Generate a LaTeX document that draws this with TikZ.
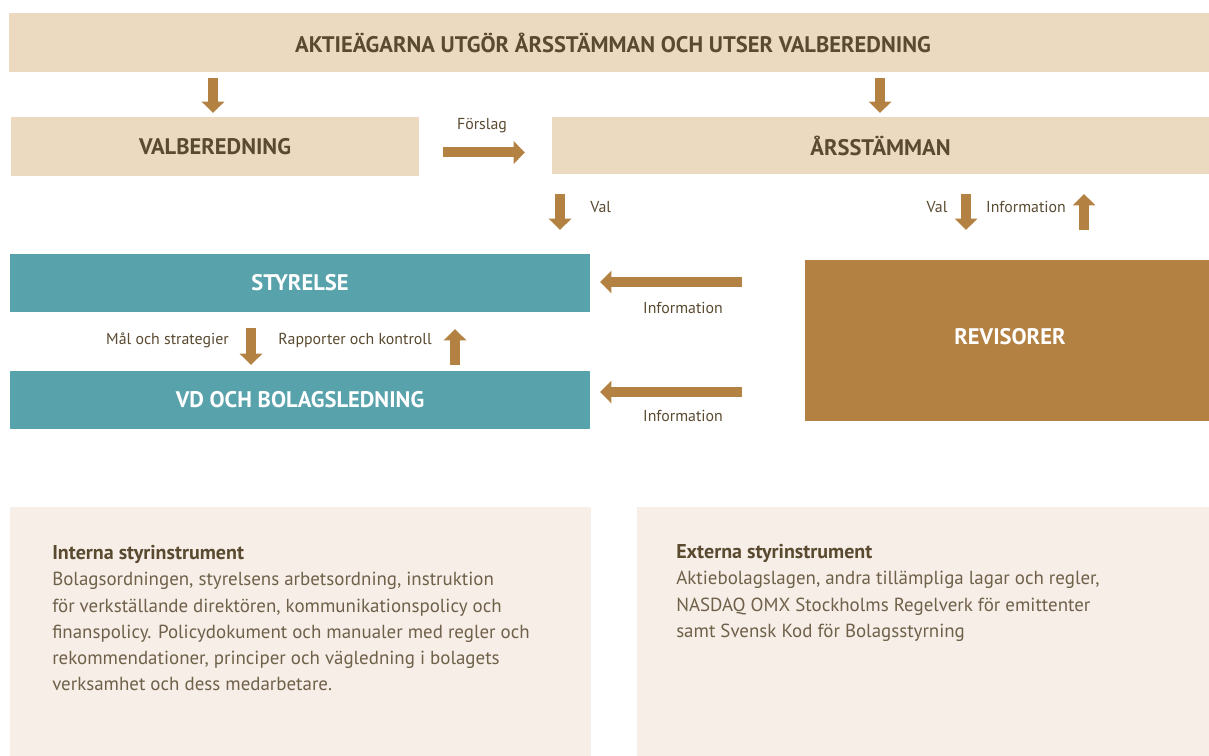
\documentclass[tikz,border=0pt]{standalone}
\usepackage{fontspec}
\setmainfont{PT Sans}
\usetikzlibrary{arrows.meta}
\definecolor{beige}{HTML}{EBDAC0}
\definecolor{teal}{HTML}{58A2AC}
\definecolor{brownc}{HTML}{B38243}
\definecolor{darktext}{HTML}{594A30}
\definecolor{pale}{HTML}{F6EEE7}
\definecolor{bodytext}{HTML}{6F6049}
\begin{document}
\begin{tikzpicture}[x=0.75pt,y=-0.75pt,
  box/.style={draw=none,inner sep=0pt,outer sep=0pt},
  blk/.style={-{Triangle[width=16.5pt,length=8.5pt]},line width=7.5pt,draw=brownc},
  lbl/.style={font=\fontsize{11.9}{14}\selectfont,text=darktext,inner sep=0pt},
  ttl/.style={font=\bfseries\fontsize{16.9}{19}\selectfont,inner sep=0pt},
  para/.style={anchor=north west,align=left,inner sep=0pt,text=bodytext,
    font=\fontsize{14.2}{19.7}\selectfont}]
\useasboundingbox (0,0) rectangle (1209,756);
% boxes
\node[box,fill=beige,minimum width=900pt,minimum height=44.25pt] (banner) at (609,42.5) {};
\node[ttl,text=darktext] (bannertxt) at (613,43) {AKTIEÄGARNA UTGÖR ÅRSSTÄMMAN OCH UTSER VALBEREDNING};
\node[box,fill=beige,minimum width=306pt,minimum height=44.25pt,ttl,text=darktext] (valb) at (215,146.5) {VALBEREDNING};
\node[box,fill=beige,minimum width=492.75pt,minimum height=42.75pt,ttl,text=darktext] (arss) at (880.5,145.5) {ÅRSSTÄMMAN};
\node[box,fill=teal,minimum width=435pt,minimum height=43.5pt,ttl,text=white] (styr) at (300,283) {STYRELSE};
\node[box,fill=teal,minimum width=435pt,minimum height=43.5pt,ttl,text=white] (vd) at (300,400) {VD OCH BOLAGSLEDNING};
\node[box,fill=brownc,minimum width=303pt,minimum height=120.75pt] (rev) at (1007,340.5) {};
\node[ttl,text=white] (revtxt) at (1010,337) {REVISORER};
\node[box,fill=pale,minimum width=435.75pt,minimum height=186.75pt] (intbox) at (300.5,631.5) {};
\node[box,fill=pale,minimum width=429pt,minimum height=186.75pt] (extbox) at (923,631.5) {};
% arrow end points
\coordinate (a1s) at (213,78);   \coordinate (a1e) at (213,113);
\coordinate (a2s) at (880,78);   \coordinate (a2e) at (880,113);
\coordinate (fs) at (443,152.5); \coordinate (fe) at (525,152.5);
\coordinate (v1s) at (560,194);  \coordinate (v1e) at (560,230);
\coordinate (v2s) at (966,194);  \coordinate (v2e) at (966,230);
\coordinate (ius) at (1084,230); \coordinate (iue) at (1084,194);
\coordinate (i1s) at (742,282);  \coordinate (i1e) at (600,282);
\coordinate (i2s) at (742,392);  \coordinate (i2e) at (600,392);
\coordinate (ms) at (251,328);   \coordinate (me) at (251,365);
\coordinate (rs) at (455,365);   \coordinate (re) at (455,329);
\foreach \s/\e in {a1s/a1e,a2s/a2e,fs/fe,v1s/v1e,v2s/v2e,ius/iue,i1s/i1e,i2s/i2e,ms/me,rs/re}
  \draw[blk] (\s) -- (\e);
% labels
\node[lbl] (lf) at (482,126) {Förslag};
\node[lbl,anchor=west] (lv1) at (590,207) {Val};
\node[lbl] (lv2) at (937,207) {Val};
\node[lbl] (li0) at (1026,207) {Information};
\node[lbl] (li1) at (683,308) {Information};
\node[lbl] (li2) at (683,416) {Information};
\node[lbl] (lm) at (167.5,340) {Mål och strategier};
\node[lbl] (lr) at (355,340) {Rapporter och kontroll};
% texts
\node[para] (inttxt) at (52,545) {{\bfseries\color{darktext}\fontsize{15}{19.7}\selectfont Interna styrinstrument}\\
Bolagsordningen, styrelsens arbetsordning, instruktion\\
för verkställande direktören, kommunikationspolicy och\\
finanspolicy. Policydokument och manualer med regler och\\
rekommendationer, principer och vägledning i bolagets\\
verksamhet och dess medarbetare.};
\node[para] (exttxt) at (676,544) {{\bfseries\color{darktext}\fontsize{15}{19.7}\selectfont Externa styrinstrument}\\
Aktiebolagslagen, andra tillämpliga lagar och regler,\\
NASDAQ OMX Stockholms Regelverk för emittenter\\
samt Svensk Kod för Bolagsstyrning};
\end{tikzpicture}
\end{document}
